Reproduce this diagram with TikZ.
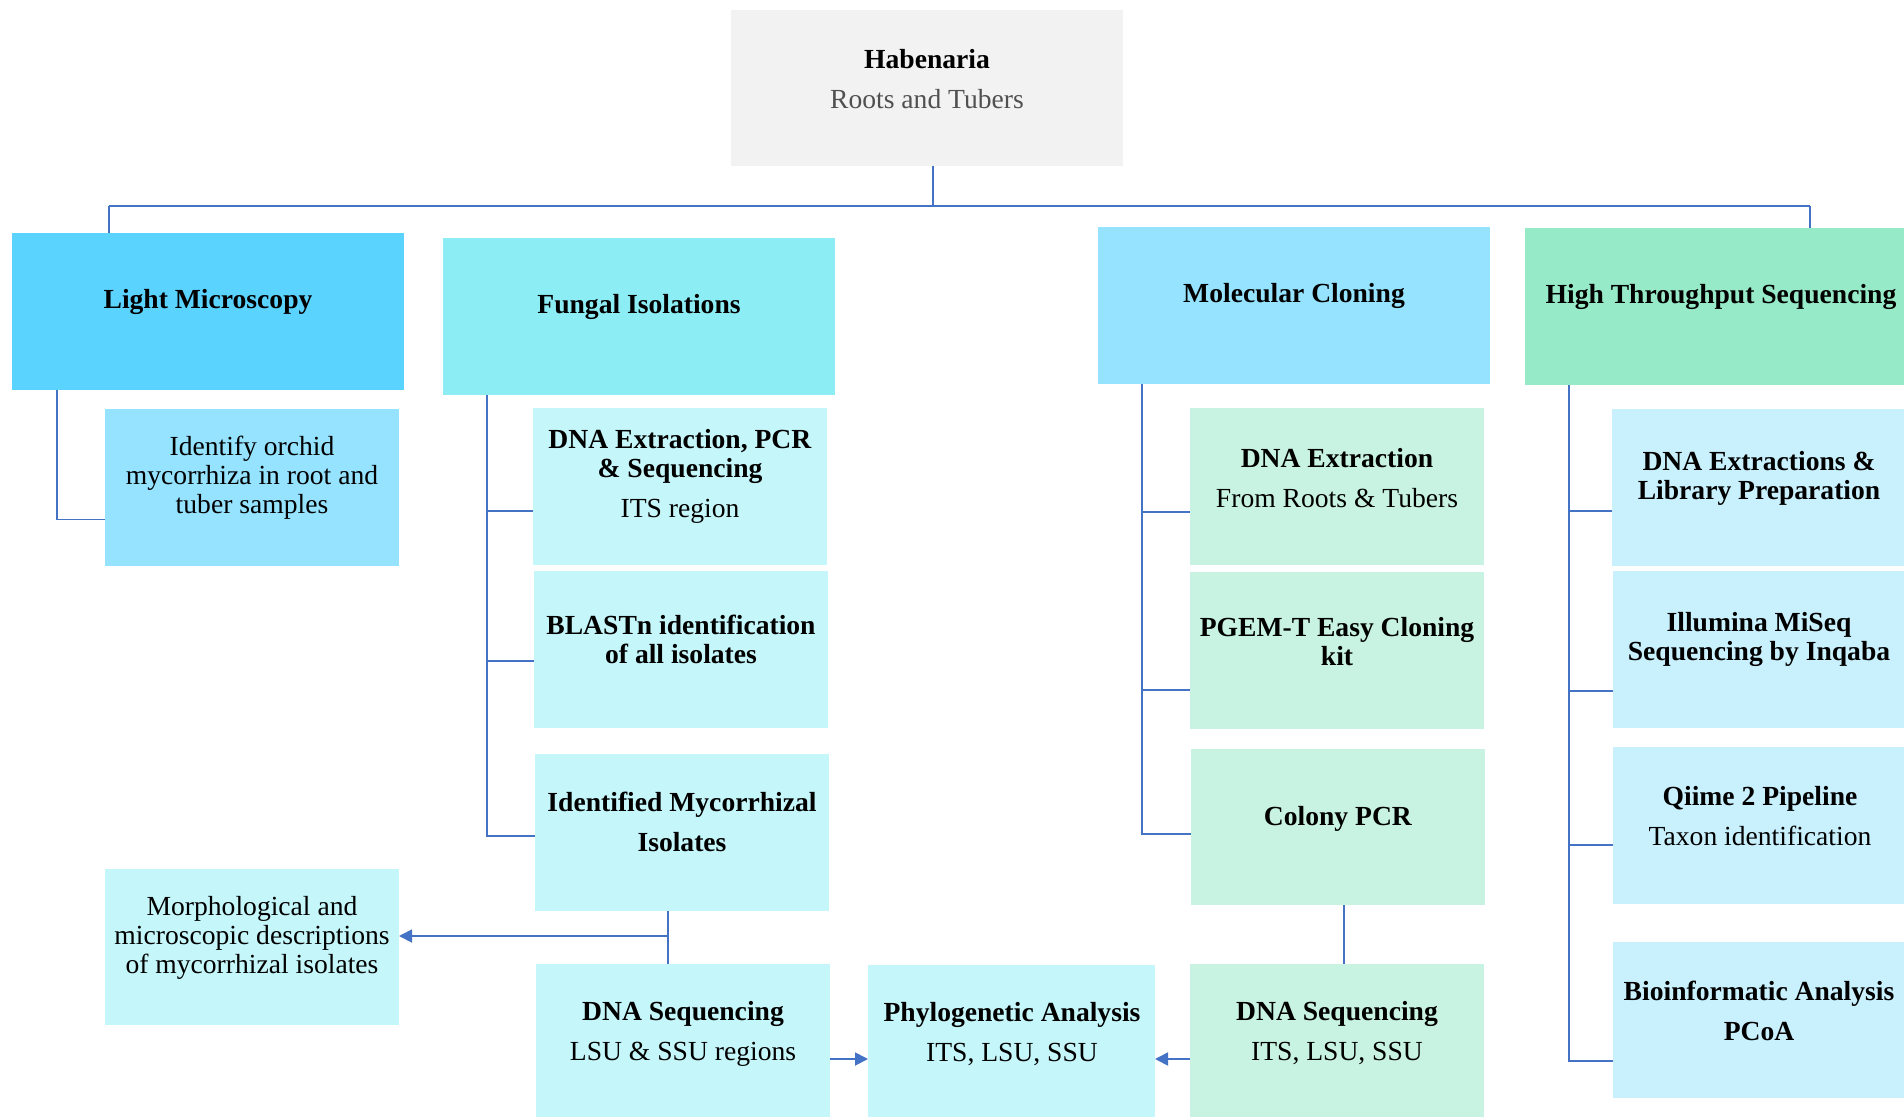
\documentclass[tikz,border=0pt]{standalone}
\usepackage{fontspec}
\setmainfont{Liberation Serif}
\usetikzlibrary{fit,calc,arrows.meta}
\definecolor{rootgray}{HTML}{F2F2F2}
\definecolor{subgray}{HTML}{505050}
\definecolor{lmblue}{HTML}{5BD3FF}
\definecolor{fiturq}{HTML}{8CEDF5}
\definecolor{mcblue}{HTML}{95E3FF}
\definecolor{htsgreen}{HTML}{96EAC8}
\definecolor{fichild}{HTML}{C5F6FA}
\definecolor{mcchild}{HTML}{C8F3E3}
\definecolor{htschild}{HTML}{C8F0FD}
\definecolor{lineblue}{HTML}{4472C4}
\begin{document}
\begin{tikzpicture}[x=0.5pt,y=-0.5pt,
  box/.style={inner sep=0pt, outer sep=0pt, draw=none},
  txt/.style={align=center, font=\fontsize{13.8}{14.5}\selectfont, inner sep=0pt, yshift=-0.7pt},
  conn/.style={draw=lineblue, line width=0.9pt},
  arr/.style={conn, -{Triangle[length=6.5pt,width=6.5pt]}}]
\useasboundingbox (0,0) rectangle (1904,1117);
% boxes
\node[box, fill=rootgray, fit={(731,10) (1123,166)}] (root) {};
\node[box, fill=lmblue, fit={(12,233) (404,390)}] (lm) {};
\node[box, fill=fiturq, fit={(443,238) (835,395)}] (fi) {};
\node[box, fill=mcblue, fit={(1098,227) (1490,384)}] (mc) {};
\node[box, fill=htsgreen, fit={(1525,228) (1917,385)}] (hts) {};
\node[box, fill=mcblue, fit={(105,409) (399,566)}] (ident) {};
\node[box, fill=fichild, fit={(533,408) (827,565)}] (fdna) {};
\node[box, fill=fichild, fit={(534,571) (828,728)}] (blast) {};
\node[box, fill=fichild, fit={(535,754) (829,911)}] (idmyc) {};
\node[box, fill=fichild, fit={(105,869) (399,1025)}] (morph) {};
\node[box, fill=fichild, fit={(536,964) (830,1121)}] (lsu) {};
\node[box, fill=fichild, fit={(868,965) (1155,1121)}] (phylo) {};
\node[box, fill=mcchild, fit={(1190,964) (1484,1121)}] (its) {};
\node[box, fill=mcchild, fit={(1190,408) (1484,565)}] (mdna) {};
\node[box, fill=mcchild, fit={(1190,572) (1484,729)}] (pgem) {};
\node[box, fill=mcchild, fit={(1191,749) (1485,905)}] (colony) {};
\node[box, fill=htschild, fit={(1612,409) (1906,566)}] (hdna) {};
\node[box, fill=htschild, fit={(1613,571) (1907,728)}] (illum) {};
\node[box, fill=htschild, fit={(1613,747) (1907,904)}] (qiime) {};
\node[box, fill=htschild, fit={(1613,942) (1907,1098)}] (bioinf) {};
% texts
\node[txt] (root-t) at (927,78) {\textbf{Habenaria}\\[5.5pt]{\color{subgray}Roots and Tubers}};
\node[txt] (lm-t) at (208,301) {\textbf{Light Microscopy}};
\node[txt] (fi-t) at (639,306) {\textbf{Fungal Isolations}};
\node[txt] (mc-t) at (1294,295) {\textbf{Molecular Cloning}};
\node[txt] (hts-t) at (1721,296) {\textbf{High Throughput Sequencing}};
\node[txt] (ident-t) at (252,476) {Identify orchid\\mycorrhiza in root and\\tuber samples};
\node[txt] (fdna-t) at (680,475) {\textbf{DNA Extraction, PCR}\\\textbf{\& Sequencing}\\[5.5pt]ITS region};
\node[txt] (blast-t) at (681,638.5) {\textbf{BLASTn identification}\\\textbf{of all isolates}};
\node[txt] (idmyc-t) at (682,821) {\textbf{Identified Mycorrhizal}\\[5.5pt]\textbf{Isolates}};
\node[txt] (morph-t) at (252,936.5) {Morphological and\\microscopic descriptions\\of mycorrhizal isolates};
\node[txt] (lsu-t) at (683,1032) {\textbf{DNA Sequencing}\\[5.5pt]LSU \& SSU regions};
\node[txt] (phylo-t) at (1012,1032.5) {\textbf{Phylogenetic Analysis}\\[5.5pt]ITS, LSU, SSU};
\node[txt] (its-t) at (1337,1032) {\textbf{DNA Sequencing}\\[5.5pt]ITS, LSU, SSU};
\node[txt] (mdna-t) at (1337,477) {\textbf{DNA Extraction}\\[5.5pt]From Roots \& Tubers};
\node[txt] (pgem-t) at (1337,640) {\textbf{PGEM-T Easy Cloning}\\\textbf{kit}};
\node[txt] (colony-t) at (1338,817) {\textbf{Colony PCR}};
\node[txt] (hdna-t) at (1759,477.5) {\textbf{DNA Extractions \&}\\\textbf{Library Preparation}};
\node[txt] (illum-t) at (1759,638.5) {\textbf{Illumina MiSeq}\\\textbf{Sequencing by Inqaba}};
\node[txt] (qiime-t) at (1760,814.5) {\textbf{Qiime 2 Pipeline}\\[5.5pt]Taxon identification};
\node[txt] (bioinf-t) at (1759,1010) {\textbf{Bioinformatic Analysis}\\[5.5pt]\textbf{PCoA}};
% top bus
\coordinate (busL) at (109,206);
\coordinate (busR) at (1810,206);
\coordinate (rootx) at (933,0);
\draw[conn] (busL) -- (busR);
\draw[conn] (root.south -| rootx) -- (rootx |- busL);
\draw[conn] (busL) -- (busL |- lm.north);
\draw[conn] (busR) -- (busR |- hts.north);
% light microscopy
\coordinate (lmx) at (57,0);
\draw[conn] (lm.south -| lmx) |- ($(ident.west)+(0,32)$);
% fungal isolations
\coordinate (fix) at (487,0);
\draw[conn] (fi.south -| fix) |- ($(idmyc.west)+(0,3.5)$);
\draw[conn] ($(fdna.west)+(0,24.5)$) -- ++(-46,0);
\draw[conn] ($(blast.west)+(0,11.5)$) -- ++(-47,0);
% molecular cloning
\coordinate (mcx) at (1142,0);
\draw[conn] (mc.south -| mcx) |- ($(colony.west)+(0,7)$);
\draw[conn] ($(mdna.west)+(0,25.5)$) -- ++(-48,0);
\draw[conn] ($(pgem.west)+(0,39.5)$) -- ++(-48,0);
% high throughput
\coordinate (htx) at (1569,0);
\draw[conn] (hts.south -| htx) |- ($(bioinf.west)+(0,41)$);
\draw[conn] ($(hdna.west)+(0,23.5)$) -- ++(-43,0);
\draw[conn] ($(illum.west)+(0,41.5)$) -- ++(-44,0);
\draw[conn] ($(qiime.west)+(0,19.5)$) -- ++(-44,0);
% lower flow
\coordinate (idx) at (668,0);
\draw[conn] (idmyc.south -| idx) -- (lsu.north -| idx);
\coordinate (junc) at (668,936);
\draw[arr] (junc) -- (junc -| morph.east);
\coordinate (arrowy) at (0,1059);
\draw[arr] (lsu.east |- arrowy) -- (phylo.west |- arrowy);
\draw[arr] (its.west |- arrowy) -- (phylo.east |- arrowy);
\coordinate (cx) at (1344,0);
\draw[conn] (colony.south -| cx) -- (its.north -| cx);
\end{tikzpicture}
\end{document}
